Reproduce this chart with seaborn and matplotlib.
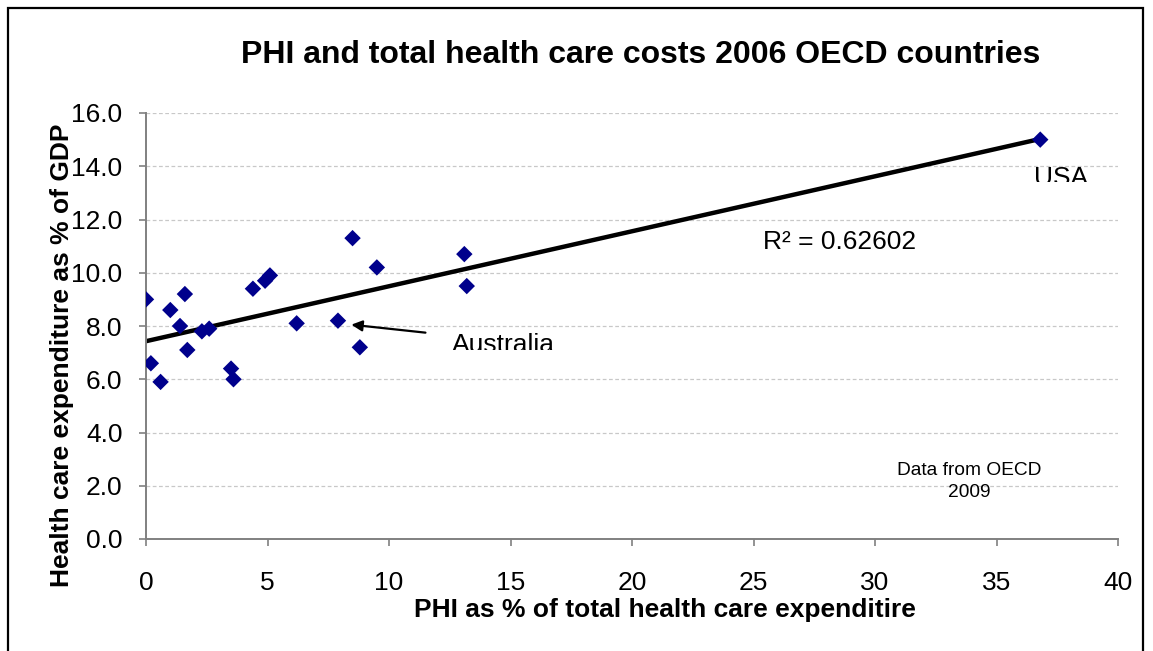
import matplotlib
matplotlib.use("Agg")
import matplotlib.pyplot as plt
import matplotlib.patches as patches
from matplotlib.transforms import Bbox, TransformedBbox
import numpy as np
import pandas as pd
import seaborn as sns

# PHI as % of total health care expenditure (x) and health costs as % of GDP (y)
phi_share = [0.0, 0.2, 0.6, 1.0, 1.6, 1.4, 1.7, 2.3, 2.6, 3.5, 3.6,
             4.4, 4.9, 5.1, 6.2, 7.9, 8.5, 8.8, 9.5, 13.1, 13.2, 36.8]
health_gdp = [9.0, 6.6, 5.9, 8.6, 9.2, 8.0, 7.1, 7.8, 7.9, 6.4, 6.0,
              9.4, 9.7, 9.9, 8.1, 8.2, 11.3, 7.2, 10.2, 10.7, 9.5, 15.0]

x_ticks = [0, 5, 10, 15, 20, 25, 30, 35, 40]
y_ticks = [0.0, 2.0, 4.0, 6.0, 8.0, 10.0, 12.0, 14.0, 16.0]

title = "PHI and total health care costs 2006 OECD countries"
x_label = "PHI as % of total health care expenditire"
y_label = "Health care expenditure as % of GDP"
r2_text = "R² = 0.62602"
source_text = "Data from OECD\n2009"


def make_plot():
      sns.set_style("white")
      plt.rcParams['font.family'] = ['Liberation Sans', 'DejaVu Sans']
      plt.rcParams['text.color'] = 'black'
      plt.rcParams['axes.labelcolor'] = 'black'

      df = pd.DataFrame({"phi": phi_share, "gdp": health_gdp})

      W, H = 1153, 651
      fig = plt.figure(figsize=(W / 100, H / 100), dpi=100)
      ax = fig.add_axes([146 / W, 1 - 539 / H, (1118 - 146) / W, (539 - 113) / H])

      # trend line first, then the diamonds on top
      sns.regplot(data=df, x="phi", y="gdp", scatter=False, ci=None, truncate=True,
                  line_kws={"color": "black", "lw": 3.2}, ax=ax)
      sns.scatterplot(data=df, x="phi", y="gdp", marker="D", s=70, color="#00008C",
                      edgecolor="none", ax=ax, zorder=3)

      ax.set_xlim(0, 40)
      ax.set_ylim(0, 16)
      ax.set_xticks(x_ticks)
      ax.set_yticks(y_ticks)
      ax.set_xticklabels([str(t) for t in x_ticks])
      ax.set_yticklabels(["%.1f" % t for t in y_ticks])

      # dashed horizontal grid only
      ax.yaxis.grid(True, color="#c8c8c8", linestyle=(0, (3, 2)), lw=0.9)
      ax.xaxis.grid(False)
      ax.set_axisbelow(True)

      for s in ["top", "right"]:
            ax.spines[s].set_visible(False)
      for s in ["left", "bottom"]:
            ax.spines[s].set_color("#808080")
            ax.spines[s].set_linewidth(1.4)
      ax.tick_params(axis="both", direction="out", length=5, width=1.2, color="#808080",
                     labelsize=19, labelcolor="black")
      ax.tick_params(axis="y", pad=12, left=True)
      ax.tick_params(axis="x", pad=18, bottom=True)

      # axis titles sit off-centre in the original
      ax.set_xlabel(x_label, fontsize=19, fontweight="bold", va="center")
      ax.xaxis.set_label_coords((665 - 146) / 972, (539 - 610) / 426)
      ax.set_ylabel(y_label, fontsize=19, fontweight="bold", va="center")
      ax.yaxis.set_label_coords((62 - 146) / 972, (539 - 355) / 426)

      fig.text(641 / W, 1 - 55 / H, title, fontsize=23, fontweight="bold",
               ha="center", va="center")

      # labels that Excel clipped at the bottom
      usa = ax.text(36.55, 14.0, "USA", fontsize=19, ha="left", va="top", clip_on=True)
      usa.set_clip_box(TransformedBbox(Bbox.from_extents(0, 1 - 182 / H, 1, 1), fig.transFigure))
      aus = ax.text(12.6, 7.72, "Australia", fontsize=19, ha="left", va="top", clip_on=True)
      aus.set_clip_box(TransformedBbox(Bbox.from_extents(0, 1 - 350 / H, 1, 1), fig.transFigure))

      ax.annotate("", xy=(8.45, 8.05), xytext=(11.5, 7.75),
                  arrowprops=dict(arrowstyle="-|>", color="black", lw=1.6,
                                  mutation_scale=16, shrinkA=0, shrinkB=0))

      ax.text(25.4, 11.17, r2_text, fontsize=19, ha="left", va="center")
      ax.text(33.86, 2.16, source_text, fontsize=13.8, ha="center", va="center",
              linespacing=1.45)

      # outer frame of the chart area
      fig.patches.append(patches.Rectangle((8 / W, -0.05), (1143 - 8) / W, 1.05 - 8 / H,
                                           transform=fig.transFigure, fill=False,
                                           edgecolor="black", lw=1.6))

      fig.savefig("out.png", dpi=100)


if __name__ == "__main__":
      make_plot()
      print("run end")
